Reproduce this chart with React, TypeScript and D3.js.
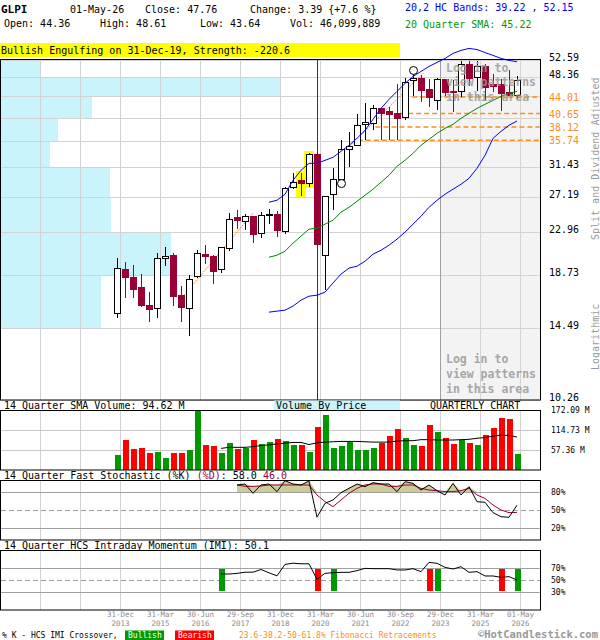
import React from "react";
import * as d3 from "d3";

// quarterly candles, Q4 2013 .. Q2 2026 (split and dividend adjusted)
const opens = [
  15.56, 19.24, 18.52, 17.65, 16.19, 15.93, 20.26, 20.58, 16.92, 15.93,
  18.55, 20.68, 20.48, 19.21, 21.26, 24.62, 24.23, 24.82, 22.8, 25.02,
  25.02, 23.02, 28.48, 29.5, 29.03, 33.42, 20.55, 27.58, 29.64, 34.19,
  34.9, 38.6, 38.83, 41.62, 41.09, 40.58, 39.87, 47.68, 48.1, 45.67,
  43.31, 47.84, 45.3, 45.23, 51.49, 48.29, 51.0, 46.71, 46.71, 44.9,
  44.36,
];
const highs = [
  20.32, 19.93, 19.62, 18.76, 17.21, 20.78, 21.38, 20.75, 17.76, 18.7,
  21.08, 21.66, 20.58, 21.32, 25.18, 25.58, 25.1, 24.9, 25.34, 25.75,
  25.42, 28.57, 30.62, 30.56, 33.63, 56.0, 27.4, 31.25, 35.87, 37.18,
  40.65, 42.76, 42.29, 41.8, 41.95, 46.78, 48.29, 49.25, 48.84, 48.07,
  48.29, 48.07, 47.68, 52.4, 52.4, 52.4, 51.66, 49.25, 48.07, 50.02,
  48.61,
];
const lows = [
  15.23, 16.76, 16.72, 16.03, 14.94, 15.23, 19.55, 16.14, 14.9, 13.97,
  18.46, 19.68, 17.96, 18.85, 20.98, 23.32, 23.21, 21.83, 22.3, 23.96,
  22.48, 22.8, 28.26, 27.36, 28.57, 9.0, 17.4, 25.54, 28.66, 31.44,
  34.9, 35.75, 37.63, 35.75, 35.75, 35.87, 39.35, 44.16, 42.95, 41.95,
  41.28, 44.16, 40.95, 44.0, 46.39, 45.3, 43.31, 45.08, 41.09, 44.3,
  43.64,
];
const closes = [
  19.31, 18.46, 17.48, 16.14, 15.82, 20.26, 20.45, 16.84, 16.03, 18.31,
  20.75, 20.41, 19.06, 21.32, 24.47, 24.32, 24.78, 22.77, 24.9, 25.06,
  23.21, 28.35, 29.17, 29.11, 33.37, 21.7, 27.32, 29.64, 34.19, 34.73,
  38.42, 39.03, 41.62, 40.76, 40.45, 39.68, 47.16, 48.07, 45.38, 43.95,
  47.84, 45.08, 45.08, 51.42, 48.07, 51.0, 46.04, 46.39, 44.74, 44.37,
  47.76,
];
// volume, millions of shares
const volumes = [
  43.0, 86.0, 60.2, 63.1, 48.8, 51.6, 34.4, 48.8, 48.8, 57.4,
  172.0, 71.7, 68.8, 48.8, 77.4, 60.2, 63.1, 86.0, 74.6, 80.3,
  89.8, 83.2, 71.7, 71.7, 51.6, 123.3, 157.7, 63.1, 68.8, 81.2,
  57.4, 57.4, 63.1, 78.3, 97.5, 117.6, 91.8, 71.7, 68.8, 129.1,
  109.0, 91.8, 74.6, 86.0, 77.4, 71.7, 100.4, 120.5, 149.1, 146.2,
  46.1,
];

// 20,2 HC bands and 20 quarter SMA, from candle 19
const bandStart = 19;
const upperBand = [
  26.55, 26.8, 27.58, 29.5, 30.95, 32.0, 32.0, 32.47, 32.94, 33.91,
  34.9, 36.09, 37.5, 39.54, 41.68, 43.52, 45.23, 46.99, 48.6, 49.78,
  50.99, 51.98, 52.99, 54.28, 55.07, 55.6, 55.3, 54.5, 53.77, 52.99,
  52.49, 52.15,
];
const smaLine = [
  20.38, 20.58, 20.98, 21.8, 22.55, 23.32, 23.43, 23.89, 24.35, 25.3,
  25.91, 26.67, 27.45, 28.26, 29.22, 30.22, 31.55, 32.47, 33.58, 34.9,
  35.92, 36.97, 37.87, 38.6, 39.73, 40.7, 41.68, 42.5, 43.31, 44.16,
  44.8, 45.22,
];
const lowerBand = [
  15.65, 15.73, 15.8, 16.11, 16.58, 16.9, 16.98, 17.23, 18.01, 18.79,
  19.34, 19.52, 19.99, 20.68, 21.08, 21.59, 22.23, 22.99, 23.89, 24.82,
  25.91, 26.8, 27.58, 28.26, 28.94, 29.78, 31.25, 33.26, 36.09, 37.32,
  38.42, 39.22,
];

// 14 quarter SMA of volume, from candle 13
const volSmaStart = 13;
const volSma = [
  62, 65, 65, 65, 67, 70, 72, 75, 77, 79,
  79, 73, 78, 80, 81, 82, 82, 82, 81, 80,
  80, 80, 83, 84, 84, 87, 87, 86, 86, 86,
  87, 88, 91, 93, 97, 100, 99, 94.6,
];

// fast stochastic, from candle 15
const stochStart = 15;
const pctK = [
  91.7, 93.3, 77.8, 91.7, 93.3, 80.6, 98.9, 93.3, 91.7, 98.3,
  38.0, 61.1, 66.7, 78.9, 86.1, 93.3, 88.9, 95.6, 93.3, 93.3,
  80.6, 97.2, 94.4, 83.3, 91.7, 82.2, 75.0, 94.4, 75.0, 88.9,
  63.9, 62.8, 45.6, 38.9, 37.8, 58.0,
];
const pctD = [
  91.7, 89.4, 89.4, 90.0, 91.7, 91.7, 91.7, 91.7, 91.7, 91.7,
  75.0, 63.9, 55.6, 66.7, 77.8, 86.1, 91.7, 93.3, 93.3, 89.4,
  89.4, 91.7, 91.7, 86.1, 83.3, 82.2, 80.6, 80.6, 82.2, 86.1,
  75.0, 69.4, 58.3, 50.0, 45.6, 46.0,
];

// HCS intraday momentum, from candle 13
const imiStart = 13;
const imi = [
  60, 60, 61, 63, 63, 67.5, 62, 57, 76, 78,
  77, 77, 51, 61.1, 62.2, 62.8, 62.8, 65.6, 69.4, 68.9,
  68.9, 68.9, 66.7, 66.7, 68.9, 63.9, 79.4, 77.8, 71.1, 68.3,
  72.2, 62.8, 63.9, 56.7, 56.7, 54.4, 55.6, 50.1,
];
const crossovers = [
  { i: 13, bull: true },
  { i: 25, bull: false },
  { i: 27, bull: true },
  { i: 39, bull: false },
  { i: 40, bull: true },
  { i: 48, bull: false },
  { i: 50, bull: true },
];

const priceGrid = [10.26, 14.49, 18.73, 22.96, 27.19, 31.43, 35.66, 39.89, 44.13, 48.36, 52.59];
const priceLabels = ["10.26", "14.49", "18.73", "22.96", "27.19", "31.43", "48.36", "52.59"];
// volume by price, per band between consecutive priceGrid levels
const volByPrice = [0, 357, 608, 393, 390, 175, 203, 325, 1000, 140];
const fibLevels = ["44.01", "40.65", "38.12", "35.74"];
const fibStartIdx = [36.9, 35.4, 32.3, 30.1];
const trendLines = [
  [{ i: 7.9, p: 16.6 }, { i: 17, p: 25.2 }],
  [{ i: 28.6, p: 34.1 }, { i: 38.3, p: 49.4 }],
];
const highlighted = [23, 24];
const patternCircles = [{ i: 28, p: 29.04 }, { i: 37, p: 50.0 }];

const dateTickIdx = [0, 5, 10, 15, 20, 25, 30, 35, 40, 45, 50];
const dateLabels = [
  ["31-Dec", "2013"], ["31-Mar", "2015"], ["30-Jun", "2016"], ["29-Sep", "2017"],
  ["31-Dec", "2018"], ["31-Mar", "2020"], ["30-Jun", "2021"], ["30-Sep", "2022"],
  ["29-Dec", "2023"], ["31-Mar", "2025"], ["01-May", "2026"],
];
const volTicks = [57.36, 114.73, 172.09];
const stochTicks = [20, 50, 80];
const imiTicks = [30, 50, 70];

const font = "'DejaVu Sans Mono', monospace";
const RED = "#990033";
const L = 1;
const R = 540;

export default function App() {
  const x = d3.scaleLinear().domain([0, 50]).range([117, 517]);
  const yP = d3.scaleLog().domain([10.26, 52.59]).range([400, 60]);
  const yV = d3.scaleLinear().domain([0, 172.09]).range([470, 410]);
  const yS = d3.scaleLinear().domain([0, 100]).range([540, 480]);
  const yI = d3.scaleLinear().domain([0, 100]).range([610, 550]);
  const vbpW = d3.scaleLinear().domain([0, 1000]).range([0, 279]);

  const gridX = d3.range(-10, 51, 5).map((i) => x(i) + 3.5);

  const bandLine = (vals: number[]) =>
    d3.line<number>().x((_, j) => x(bandStart + j)).y((v) => yP(v))(vals) || "";

  const volSmaPath =
    d3.line<number>().x((_, j) => x(volSmaStart + j)).y((v) => yV(v))(volSma) || "";
  const kPath = d3.line<number>().x((_, j) => x(stochStart + j)).y((v) => yS(v))(pctK) || "";
  const dPath = d3.line<number>().x((_, j) => x(stochStart + j)).y((v) => yS(v))(pctD) || "";
  const stochFill =
    d3
      .area<number>()
      .x((_, j) => x(stochStart + j))
      .y0(yS(80))
      .y1((v, j) => yS(Math.max(80, v, pctD[j])))(pctK) || "";
  const imiPath = d3.line<number>().x((_, j) => x(imiStart + j)).y((v) => yI(v))(imi) || "";

  const vLines = (y1: number, y2: number) =>
    gridX.map((gx, i) => (
      <line key={i} x1={gx} x2={gx} y1={y1} y2={y2} stroke="#d3d3d3" />
    ));

  return (
    <svg
      width={600}
      height={640}
      style={{ position: "absolute", left: 0, top: 0, background: "#fff" }}
      fontFamily={font}
    >
      <defs>
        <clipPath id="plot">
          <rect x={L} y={60} width={R - L} height={340} />
        </clipPath>
      </defs>
      <rect width={600} height={640} fill="#fff" />

      {/* header */}
      <g fontSize={10}>
        <text x={1} y={13} fontWeight="bold" fontSize={11}>GLPI</text>
        <text x={70} y={13}>01-May-26</text>
        <text x={145} y={13}>Close: 47.76</text>
        <text x={250} y={13}>Change: 3.39 {"{+7.6 %}"}</text>
        <text x={4} y={27}>Open: 44.36</text>
        <text x={100} y={27}>High: 48.61</text>
        <text x={200} y={27}>Low: 43.64</text>
        <text x={290} y={27}>Vol: 46,099,889</text>
        <text x={405} y={11} fill="#0000ee">20,2 HC Bands: 39.22 , 52.15</text>
        <text x={405} y={28} fill="#009900">20 Quarter SMA: 45.22</text>
        <rect x={0} y={43} width={400} height={14} fill="#ffff00" />
        <text x={1} y={54}>Bullish Engulfing on 31-Dec-19, Strength: -220.6</text>
      </g>

      {/* main price panel */}
      <rect x={440} y={60} width={R - 440} height={340} fill="#f3f3f3" />
      <g shapeRendering="crispEdges">
        {volByPrice.map((v, i) =>
          v > 0 ? (
            <rect
              key={i}
              x={L}
              y={yP(priceGrid[i + 1])}
              width={vbpW(v)}
              height={yP(priceGrid[i]) - yP(priceGrid[i + 1])}
              fill="#c9f4fc"
            />
          ) : null
        )}
        {priceGrid.map((p, i) => (
          <line key={i} x1={L} x2={R} y1={Math.round(yP(p)) + 0.5} y2={Math.round(yP(p)) + 0.5} stroke="#d3d3d3" />
        ))}
        {gridX.map((gx, i) => (
          <line key={i} x1={gx} x2={gx} y1={60} y2={400} stroke={Math.round(gx) === 441 ? "#a0a0a0" : "#d3d3d3"} />
        ))}
      </g>
      <g>
        {fibLevels.map((f, i) => (
          <line
            key={f}
            x1={x(fibStartIdx[i])}
            x2={R}
            y1={yP(+f)}
            y2={yP(+f)}
            stroke="#ff8c1a"
            strokeWidth={1.5}
            strokeDasharray="5,3"
          />
        ))}
        {trendLines.map((t, i) => (
          <line
            key={i}
            x1={x(t[0].i)}
            y1={yP(t[0].p)}
            x2={x(t[1].i)}
            y2={yP(t[1].p)}
            stroke="#ff8c1a"
            strokeDasharray="2,1"
          />
        ))}
      </g>
      {highlighted.map((i) => (
        <rect
          key={i}
          x={x(i) - 5}
          y={yP(highs[i]) - 2}
          width={10}
          height={yP(lows[i]) - yP(highs[i]) + 3}
          fill="#ffff00"
        />
      ))}
      <g clipPath="url(#plot)" shapeRendering="crispEdges">
        {opens.map((o, i) => {
          const c = closes[i];
          const up = c >= o;
          const cx = x(i) + 0.5;
          const col = up ? "#000" : RED;
          const top = yP(Math.max(o, c));
          const bot = yP(Math.min(o, c));
          return (
            <g key={i}>
              <line x1={cx} x2={cx} y1={yP(highs[i])} y2={yP(lows[i])} stroke={col} />
              <rect
                x={cx - 3}
                y={top}
                width={6}
                height={Math.max(1, bot - top)}
                fill={up ? "#fff" : RED}
                stroke={col}
              />
            </g>
          );
        })}
      </g>
      <path d={bandLine(upperBand)} fill="none" stroke="#0000ff" />
      <path d={bandLine(lowerBand)} fill="none" stroke="#0000ff" />
      <path d={bandLine(smaLine)} fill="none" stroke="#008800" />
      {patternCircles.map((c, i) => (
        <circle key={i} cx={x(c.i) + 0.5} cy={yP(c.p)} r={4} fill="#fff" stroke="#000" />
      ))}
      <g fontSize={11.5} fontWeight="bold" fill="#9a9a9a" opacity={0.85}>
        <text x={446} y={72}>Log in to</text>
        <text x={446} y={86}>view patterns</text>
        <text x={446} y={101}>in this area</text>
        <text x={446} y={363}>Log in to</text>
        <text x={446} y={378}>view patterns</text>
        <text x={446} y={393}>in this area</text>
      </g>
      <rect x={0.5} y={59.5} width={R} height={340.5} fill="none" stroke="#000" />
      <g fontSize={10}>
        {priceLabels.map((p) => (
          <text key={p} x={549} y={yP(+p) + 1}>{p}</text>
        ))}
        {fibLevels.map((f) => (
          <text key={f} x={549} y={yP(+f) + 4} fill="#ff8c1a">{f}</text>
        ))}
      </g>
      <g fontSize={10} fill="#999">
        <text transform="translate(599,240) rotate(-90)">Split and Dividend Adjusted</text>
        <text transform="translate(599,370) rotate(-90)">Logarithmic</text>
      </g>

      {/* volume panel */}
      <rect x={274} y={400.5} width={126} height={9.5} fill="#c9f4fc" />
      <g fontSize={10}>
        <text x={4} y={409}>14 Quarter SMA Volume: 94.62 M</text>
        <text x={276} y={409}>Volume By Price</text>
        <text x={430} y={409}>QUARTERLY CHART</text>
      </g>
      <g shapeRendering="crispEdges">
        {vLines(410, 470)}
        {volTicks.slice(0, 2).map((v) => (
          <line key={v} x1={L} x2={R} y1={Math.round(yV(v)) + 0.5} y2={Math.round(yV(v)) + 0.5} stroke="#c8c8c8" />
        ))}
        {volumes.map((v, i) => (
          <rect
            key={i}
            x={x(i) - 2.5}
            y={yV(Math.min(v, 172.09))}
            width={6}
            height={yV(0) - yV(Math.min(v, 172.09))}
            fill={closes[i] >= opens[i] ? "#009900" : "#ff0000"}
          />
        ))}
      </g>
      <path d={volSmaPath} fill="none" stroke="#000" />
      <rect x={0.5} y={410.5} width={R} height={59.5} fill="none" stroke="#000" />
      <g fontSize={8}>
        {volTicks.map((v) => (
          <text key={v} x={551} y={yV(v) + 3}>{v.toFixed(2)} M</text>
        ))}
      </g>

      {/* stochastic panel */}
      <text x={4} y={479} fontSize={10}>
        14 Quarter Fast Stochastic (%K) <tspan fill={RED}>(%D)</tspan>: 58.0{"  "}
        <tspan fill={RED}>46.0</tspan>
      </text>
      <g shapeRendering="crispEdges">
        {vLines(480, 540)}
        {stochTicks.map((t) => (
          <line
            key={t}
            x1={L}
            x2={R}
            y1={yS(t) + 0.5}
            y2={yS(t) + 0.5}
            stroke="#a0a0a0"
            strokeDasharray={t === 50 ? "5,3" : undefined}
          />
        ))}
      </g>
      <path d={stochFill} fill="#cccc99" />
      <path d={dPath} fill="none" stroke={RED} />
      <path d={kPath} fill="none" stroke="#000" />
      <rect x={0.5} y={480.5} width={R} height={59.5} fill="none" stroke="#000" />
      <g fontSize={8}>
        {stochTicks.map((t) => (
          <text key={t} x={551} y={yS(t) + 3}>{t}%</text>
        ))}
      </g>

      {/* IMI panel */}
      <text x={4} y={549} fontSize={10}>14 Quarter HCS Intraday Momentum (IMI): 50.1</text>
      <g shapeRendering="crispEdges">
        {vLines(550, 610)}
        {imiTicks.map((t) => (
          <line
            key={t}
            x1={L}
            x2={R}
            y1={yI(t) + 0.5}
            y2={yI(t) + 0.5}
            stroke="#a0a0a0"
            strokeDasharray={t === 50 ? "5,3" : undefined}
          />
        ))}
        {crossovers.map((c) => (
          <rect
            key={c.i}
            x={x(c.i) - 2.5}
            y={yI(68)}
            width={6}
            height={yI(32) - yI(68)}
            fill={c.bull ? "#009900" : "#ff0000"}
          />
        ))}
      </g>
      <path d={imiPath} fill="none" stroke="#000" />
      <rect x={0.5} y={550.5} width={R} height={59.5} fill="none" stroke="#000" />
      <g fontSize={8}>
        {imiTicks.map((t) => (
          <text key={t} x={551} y={yI(t) + 3}>{t}%</text>
        ))}
      </g>

      {/* date axis */}
      <g fontSize={7.5} fill="#8c8c8c" textAnchor="middle">
        {dateTickIdx.map((d, i) => (
          <g key={d}>
            <text x={x(d) + 3.5} y={617}>{dateLabels[i][0]}</text>
            <text x={x(d) + 3.5} y={625.5}>{dateLabels[i][1]}</text>
          </g>
        ))}
      </g>

      {/* legend */}
      <g fontSize={8}>
        <text x={2} y={638}>% K - HCS IMI Crossover,</text>
        <rect x={125} y={630.5} width={39} height={9.5} fill="#009900" />
        <text x={128} y={638} fill="#fff">Bullish</text>
        <rect x={175} y={630.5} width={39} height={9.5} fill="#ff0000" />
        <text x={178} y={638} fill="#fff">Bearish</text>
        <text x={239} y={638} fill="#ff8c1a">23.6-38.2-50-61.8% Fibonacci Retracements</text>
      </g>
      <text x={598} y={637.5} fontSize={10.5} fontWeight="bold" fill="#999" textAnchor="end">
        ©HotCandlestick.com
      </text>
    </svg>
  );
}
